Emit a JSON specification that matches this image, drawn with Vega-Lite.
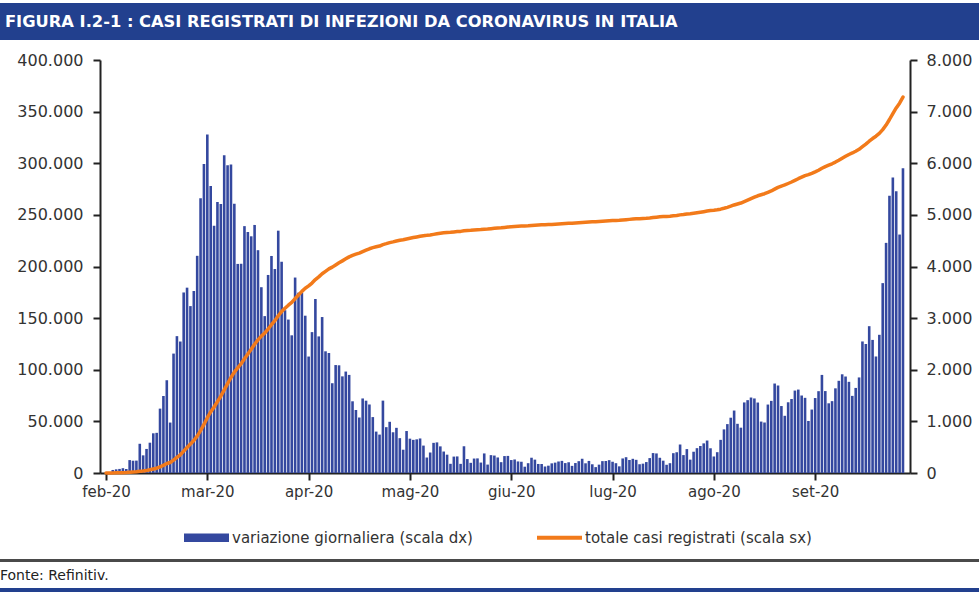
{
  "$schema": "https://vega.github.io/schema/vega-lite/v6.json",
  "background": "white",
  "padding": {"left": 0, "top": 3, "right": 0, "bottom": 0},
  "autosize": {"type": "pad"},
  "columns": 2,
  "spacing": 0,
  "bounds": "flush",
  "align": "each",
  "config": {
    "view": {"stroke": null},
    "locale": {"number": {"decimal": ",", "thousands": ".", "grouping": [3], "currency": ["€", ""]}},
    "axis": {"labelFont": "DejaVu Sans", "labelColor": "#333333", "domainColor": "#222222", "tickColor": "#222222", "grid": false}
  },
  "concat": [
    {"width": 100, "height": 37, "view": {"fill": "#22408E", "stroke": null}, "data": {"values": []}, "mark": "point", "encoding": {}},
    {"width": 879, "height": 37, "view": {"fill": "#22408E", "stroke": null}, "data": {"values": []}, "mark": "point", "encoding": {},
     "title": {"text": "FIGURA I.2-1 : CASI REGISTRATI DI INFEZIONI DA CORONAVIRUS IN ITALIA", "anchor": "start", "frame": "group", "orient": "bottom", "offset": -13, "baseline": "alphabetic", "dx": -95, "color": "#FFFFFF", "font": "DejaVu Sans", "fontSize": 16.3, "fontWeight": "bold", "limit": 0}},
    {"width": 100, "height": 20, "data": {"values": []}, "mark": "point", "encoding": {}},
    {"width": 879, "height": 20, "data": {"values": []}, "mark": "point", "encoding": {}},
    {"width": 100, "height": 413, "data": {"values": []}, "mark": "point", "encoding": {}},
    {
      "width": 810,
      "height": 413,
      "data": {"values": [
        {"d":0,"n":0,"t":3},{"d":1,"n":17,"t":20},{"d":2,"n":59,"t":79},{"d":3,"n":71,"t":150},{"d":4,"n":79,"t":229},{"d":5,"n":93,"t":322},{"d":6,"n":78,"t":400},{"d":7,"n":250,"t":650},{"d":8,"n":238,"t":888},{"d":9,"n":240,"t":1128},
        {"d":10,"n":566,"t":1694},{"d":11,"n":342,"t":2036},{"d":12,"n":466,"t":2502},{"d":13,"n":587,"t":3089},{"d":14,"n":769,"t":3858},{"d":15,"n":778,"t":4636},{"d":16,"n":1247,"t":5883},{"d":17,"n":1492,"t":7375},{"d":18,"n":1797,"t":9172},{"d":19,"n":977,"t":10149},
        {"d":20,"n":2313,"t":12462},{"d":21,"n":2651,"t":15113},{"d":22,"n":2547,"t":17660},{"d":23,"n":3497,"t":21157},{"d":24,"n":3590,"t":24747},{"d":25,"n":3233,"t":27980},{"d":26,"n":3526,"t":31506},{"d":27,"n":4207,"t":35713},{"d":28,"n":5322,"t":41035},{"d":29,"n":5986,"t":47021},
        {"d":30,"n":6557,"t":53578},{"d":31,"n":5560,"t":59138},{"d":32,"n":4789,"t":63927},{"d":33,"n":5249,"t":69176},{"d":34,"n":5210,"t":74386},{"d":35,"n":6153,"t":80539},{"d":36,"n":5959,"t":86498},{"d":37,"n":5974,"t":92472},{"d":38,"n":5217,"t":97689},{"d":39,"n":4050,"t":101739},
        {"d":40,"n":4053,"t":105792},{"d":41,"n":4782,"t":110574},{"d":42,"n":4668,"t":115242},{"d":43,"n":4585,"t":119827},{"d":44,"n":4805,"t":124632},{"d":45,"n":4316,"t":128948},{"d":46,"n":3599,"t":132547},{"d":47,"n":3039,"t":135586},{"d":48,"n":3836,"t":139422},{"d":49,"n":4204,"t":143626},
        {"d":50,"n":3951,"t":147577},{"d":51,"n":4694,"t":152271},{"d":52,"n":4092,"t":156363},{"d":53,"n":3153,"t":159516},{"d":54,"n":2972,"t":162488},{"d":55,"n":2667,"t":165155},{"d":56,"n":3786,"t":168941},{"d":57,"n":3493,"t":172434},{"d":58,"n":3491,"t":175925},{"d":59,"n":3047,"t":178972},
        {"d":60,"n":2256,"t":181228},{"d":61,"n":2729,"t":183957},{"d":62,"n":3370,"t":187327},{"d":63,"n":2646,"t":189973},{"d":64,"n":3021,"t":192994},{"d":65,"n":2357,"t":195351},{"d":66,"n":2324,"t":197675},{"d":67,"n":1739,"t":199414},{"d":68,"n":2091,"t":201505},{"d":69,"n":2086,"t":203591},
        {"d":70,"n":1872,"t":205463},{"d":71,"n":1965,"t":207428},{"d":72,"n":1900,"t":209328},{"d":73,"n":1389,"t":210717},{"d":74,"n":1221,"t":211938},{"d":75,"n":1075,"t":213013},{"d":76,"n":1444,"t":214457},{"d":77,"n":1401,"t":215858},{"d":78,"n":1327,"t":217185},{"d":79,"n":1083,"t":218268},
        {"d":80,"n":802,"t":219070},{"d":81,"n":744,"t":219814},{"d":82,"n":1402,"t":221216},{"d":83,"n":888,"t":222104},{"d":84,"n":992,"t":223096},{"d":85,"n":789,"t":223885},{"d":86,"n":875,"t":224760},{"d":87,"n":675,"t":225435},{"d":88,"n":451,"t":225886},{"d":89,"n":813,"t":226699},
        {"d":90,"n":665,"t":227364},{"d":91,"n":642,"t":228006},{"d":92,"n":652,"t":228658},{"d":93,"n":669,"t":229327},{"d":94,"n":531,"t":229858},{"d":95,"n":300,"t":230158},{"d":96,"n":397,"t":230555},{"d":97,"n":584,"t":231139},{"d":98,"n":593,"t":231732},{"d":99,"n":516,"t":232248},
        {"d":100,"n":416,"t":232664},{"d":101,"n":355,"t":233019},{"d":102,"n":178,"t":233197},{"d":103,"n":318,"t":233515},{"d":104,"n":321,"t":233836},{"d":105,"n":177,"t":234013},{"d":106,"n":518,"t":234531},{"d":107,"n":270,"t":234801},{"d":108,"n":197,"t":234998},{"d":109,"n":280,"t":235278},
        {"d":110,"n":283,"t":235561},{"d":111,"n":202,"t":235763},{"d":112,"n":379,"t":236142},{"d":113,"n":163,"t":236305},{"d":114,"n":346,"t":236651},{"d":115,"n":338,"t":236989},{"d":116,"n":301,"t":237290},{"d":117,"n":210,"t":237500},{"d":118,"n":328,"t":237828},{"d":119,"n":331,"t":238159},
        {"d":120,"n":251,"t":238410},{"d":121,"n":262,"t":238672},{"d":122,"n":224,"t":238896},{"d":123,"n":218,"t":239114},{"d":124,"n":122,"t":239236},{"d":125,"n":190,"t":239426},{"d":126,"n":296,"t":239722},{"d":127,"n":259,"t":239981},{"d":128,"n":175,"t":240156},{"d":129,"n":174,"t":240330},
        {"d":130,"n":126,"t":240456},{"d":131,"n":142,"t":240598},{"d":132,"n":187,"t":240785},{"d":133,"n":201,"t":240986},{"d":134,"n":223,"t":241209},{"d":135,"n":235,"t":241444},{"d":136,"n":192,"t":241636},{"d":137,"n":208,"t":241844},{"d":138,"n":138,"t":241982},{"d":139,"n":193,"t":242175},
        {"d":140,"n":229,"t":242404},{"d":141,"n":276,"t":242680},{"d":142,"n":188,"t":242868},{"d":143,"n":234,"t":243102},{"d":144,"n":169,"t":243271},{"d":145,"n":114,"t":243385},{"d":146,"n":162,"t":243547},{"d":147,"n":230,"t":243777},{"d":148,"n":233,"t":244010},{"d":149,"n":249,"t":244259},
        {"d":150,"n":219,"t":244478},{"d":151,"n":190,"t":244668},{"d":152,"n":129,"t":244797},{"d":153,"n":282,"t":245079},{"d":154,"n":306,"t":245385},{"d":155,"n":252,"t":245637},{"d":156,"n":275,"t":245912},{"d":157,"n":255,"t":246167},{"d":158,"n":170,"t":246337},{"d":159,"n":181,"t":246518},
        {"d":160,"n":212,"t":246730},{"d":161,"n":289,"t":247019},{"d":162,"n":386,"t":247405},{"d":163,"n":379,"t":247784},{"d":164,"n":295,"t":248079},{"d":165,"n":239,"t":248318},{"d":166,"n":159,"t":248477},{"d":167,"n":190,"t":248667},{"d":168,"n":384,"t":249051},{"d":169,"n":402,"t":249453},
        {"d":170,"n":552,"t":250005},{"d":171,"n":347,"t":250352},{"d":172,"n":463,"t":250815},{"d":173,"n":259,"t":251074},{"d":174,"n":412,"t":251486},{"d":175,"n":481,"t":251967},{"d":176,"n":523,"t":252490},{"d":177,"n":574,"t":253064},{"d":178,"n":629,"t":253693},{"d":179,"n":479,"t":254172},
        {"d":180,"n":320,"t":254492},{"d":181,"n":403,"t":254895},{"d":182,"n":642,"t":255537},{"d":183,"n":845,"t":256382},{"d":184,"n":947,"t":257329},{"d":185,"n":1071,"t":258400},{"d":186,"n":1210,"t":259610},{"d":187,"n":953,"t":260563},{"d":188,"n":878,"t":261441},{"d":189,"n":1367,"t":262808},
        {"d":190,"n":1411,"t":264219},{"d":191,"n":1462,"t":265681},{"d":192,"n":1444,"t":267125},{"d":193,"n":1365,"t":268490},{"d":194,"n":996,"t":269486},{"d":195,"n":978,"t":270464},{"d":196,"n":1326,"t":271790},{"d":197,"n":1397,"t":273187},{"d":198,"n":1733,"t":274920},{"d":199,"n":1695,"t":276615},
        {"d":200,"n":1297,"t":277912},{"d":201,"n":1108,"t":279020},{"d":202,"n":1370,"t":280390},{"d":203,"n":1434,"t":281824},{"d":204,"n":1597,"t":283421},{"d":205,"n":1616,"t":285037},{"d":206,"n":1501,"t":286538},{"d":207,"n":1456,"t":287994},{"d":208,"n":1008,"t":289002},{"d":209,"n":1229,"t":290231},
        {"d":210,"n":1452,"t":291683},{"d":211,"n":1585,"t":293268},{"d":212,"n":1900,"t":295168},{"d":213,"n":1587,"t":296755},{"d":214,"n":1350,"t":298105},{"d":215,"n":1392,"t":299497},{"d":216,"n":1640,"t":301137},{"d":217,"n":1786,"t":302923},{"d":218,"n":1912,"t":304835},{"d":219,"n":1869,"t":306704},
        {"d":220,"n":1766,"t":308470},{"d":221,"n":1494,"t":309964},{"d":222,"n":1648,"t":311612},{"d":223,"n":1851,"t":313463},{"d":224,"n":2548,"t":316011},{"d":225,"n":2499,"t":318510},{"d":226,"n":2844,"t":321354},{"d":227,"n":2578,"t":323932},{"d":228,"n":2257,"t":326189},{"d":229,"n":2677,"t":328866},
        {"d":230,"n":3678,"t":332544},{"d":231,"n":4458,"t":337002},{"d":232,"n":5372,"t":342374},{"d":233,"n":5724,"t":348098},{"d":234,"n":5456,"t":353554},{"d":235,"n":4619,"t":358173},{"d":236,"n":5901,"t":364074}
      ]},
      "layer": [
        {
          "mark": {"type": "bar", "size": 2.6},
          "encoding": {
            "x": {"field": "d", "type": "quantitative", "scale": {"domain": [-0.3, 236.6], "nice": false, "zero": false},
                  "axis": {"title": null, "values": [0, 30, 60, 90, 120, 150, 180, 210], "labelExpr": "['feb-20','mar-20','apr-20','mag-20','giu-20','lug-20','ago-20','set-20'][round(datum.value/30)]", "labelFlush": false, "labelOverlap": false, "labelFontSize": 15, "labelPadding": 4, "tickSize": 7, "tickWidth": 2, "domainWidth": 2}},
            "y": {"field": "n", "type": "quantitative", "scale": {"domain": [0, 8000], "nice": false},
                  "axis": {"orient": "right", "title": null, "values": [0, 1000, 2000, 3000, 4000, 5000, 6000, 7000, 8000], "format": ",d", "labelFontSize": 16, "labelPadding": 9, "tickSize": 7, "tickWidth": 2, "domainWidth": 2, "labelFlush": false}},
            "color": {"datum": "variazione giornaliera (scala dx)", "type": "nominal",
                      "scale": {"domain": ["variazione giornaliera (scala dx)", "totale casi registrati (scala sx)"], "range": ["#34489F", "#F27A1A"]},
                      "legend": {"orient": "none", "legendX": 184, "legendY": 512, "direction": "horizontal", "title": null,
                                 "labelFont": "DejaVu Sans", "labelFontSize": 15, "labelColor": "#333333", "labelLimit": 400,
                                 "symbolSize": 2025, "labelOffset": 3, "columnPadding": 64,
                                 "encode": {"symbols": {"update": {
                                   "shape": {"signal": "datum.value === 'totale casi registrati (scala sx)' ? 'M-1,-0.09H1V0.09H-1Z' : 'M-1,-0.19H1V0.19H-1Z'"},
                                   "fill": {"signal": "datum.value === 'totale casi registrati (scala sx)' ? '#F27A1A' : '#34489F'"},
                                   "strokeWidth": {"value": 0},
                                   "opacity": {"value": 1}
                                 }}}}}
          }
        },
        {
          "mark": {"type": "line", "strokeWidth": 3.5, "strokeJoin": "round", "strokeCap": "round"},
          "encoding": {
            "x": {"field": "d", "type": "quantitative"},
            "y": {"field": "t", "type": "quantitative", "scale": {"domain": [0, 400000], "nice": false},
                  "axis": {"orient": "left", "title": null, "values": [0, 50000, 100000, 150000, 200000, 250000, 300000, 350000, 400000], "format": ",d", "labelFontSize": 16, "labelPadding": 10, "tickSize": 7, "tickWidth": 2, "domainWidth": 2, "labelFlush": false}},
            "color": {"datum": "totale casi registrati (scala sx)", "type": "nominal"}
          }
        }
      ],
      "resolve": {"scale": {"y": "independent"}}
    },
    {"width": 100, "height": 86, "data": {"values": []}, "mark": "point", "encoding": {}},
    {"width": 879, "height": 86, "data": {"values": []}, "mark": "point", "encoding": {}},
    {"width": 100, "height": 3, "view": {"fill": "#4A4A4A", "stroke": null}, "data": {"values": []}, "mark": "point", "encoding": {}},
    {"width": 879, "height": 3, "view": {"fill": "#4A4A4A", "stroke": null}, "data": {"values": []}, "mark": "point", "encoding": {}},
    {"width": 100, "height": 26, "data": {"values": []}, "mark": "point", "encoding": {}},
    {"width": 879, "height": 26, "data": {"values": []}, "mark": "point", "encoding": {},
     "title": {"text": "Fonte: Refinitiv.", "anchor": "start", "frame": "group", "orient": "bottom", "offset": -8, "baseline": "alphabetic", "dx": -100, "color": "#222222", "font": "DejaVu Sans", "fontSize": 14, "fontWeight": "normal", "limit": 0}},
    {"width": 100, "height": 4, "view": {"fill": "#22408E", "stroke": null}, "data": {"values": []}, "mark": "point", "encoding": {}},
    {"width": 879, "height": 4, "view": {"fill": "#22408E", "stroke": null}, "data": {"values": []}, "mark": "point", "encoding": {}}
  ]
}
